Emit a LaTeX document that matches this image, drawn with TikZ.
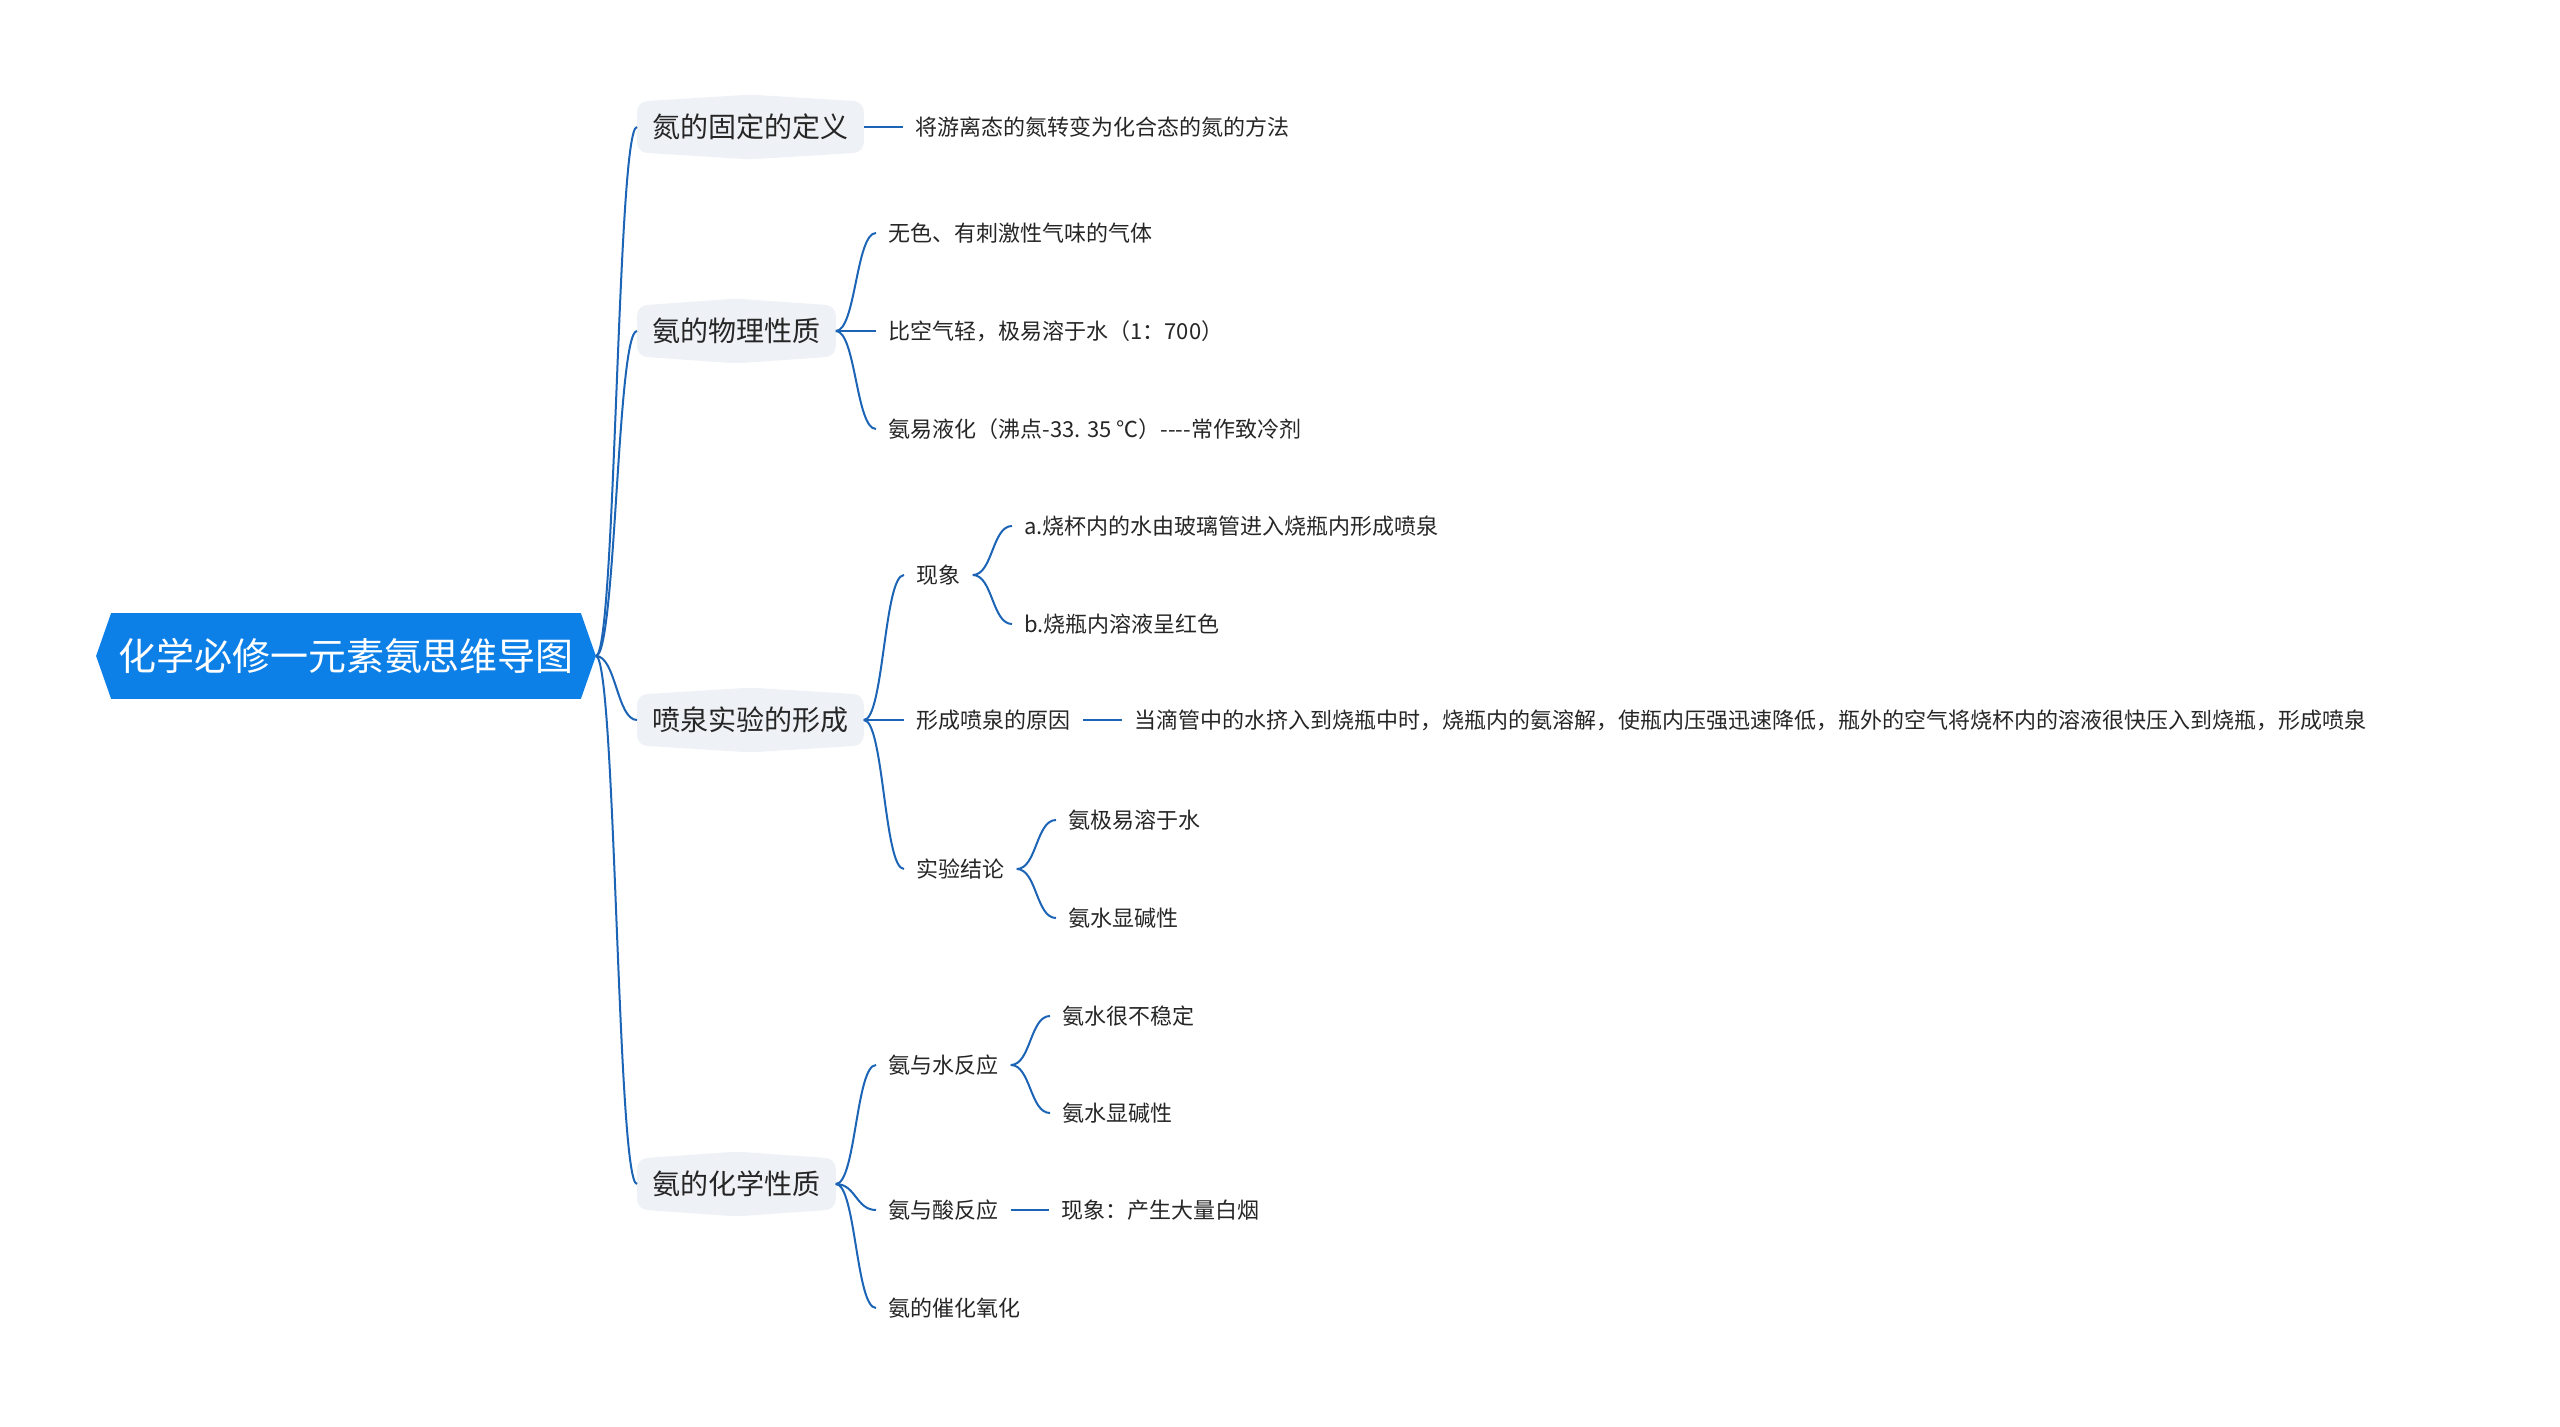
\documentclass[tikz,border=0pt]{standalone}
\usepackage{fontspec}
\setmainfont{Noto Sans CJK SC}
\usetikzlibrary{positioning,calc,backgrounds}
\definecolor{cblue}{HTML}{0D80E8}
\definecolor{cline}{HTML}{1C64B5}
\definecolor{cpale}{HTML}{EEF1F5}
\definecolor{cink}{HTML}{262626}

\begin{document}
\begin{tikzpicture}[x=0.5pt, y=-0.5pt,
  root/.style={text=white, font=\fontsize{19}{22}\selectfont, inner sep=0pt,
    minimum width=249.5pt, minimum height=42.5pt},
  topic/.style={anchor=west, text=cink, font=\fontsize{14}{17}\selectfont,
    inner xsep=7.5pt, inner ysep=0pt, minimum height=25pt},
  leaf/.style={anchor=west, text=cink, font=\fontsize{11}{13}\selectfont,
    inner xsep=6pt, inner ysep=3pt},
  link/.style={cline, line width=1pt},
  curl/.style={link, out=0, in=180, distance=10pt}]

\useasboundingbox (0,0) rectangle (2560,1427);

% ---- central topic
\node[root] (map) at (346,656) {化学必修一元素氨思维导图};

% ---- main branches (x = 637)
\node[topic] (fix)  at (637,127)  {氮的固定的定义};
\node[topic] (phys) at (637,331)  {氨的物理性质};
\node[topic] (foun) at (637,720)  {喷泉实验的形成};
\node[topic] (chem) at (637,1184) {氨的化学性质};

% ---- definition
\node[leaf] (fixd) at (903,127) {将游离态的氮转变为化合态的氮的方法};

% ---- physical properties
\node[leaf] (ph1) at (876,233) {无色、有刺激性气味的气体};
\node[leaf] (ph2) at (876,331) {比空气轻，极易溶于水（1：700）};
\node[leaf] (ph3) at (876,429) {氨易液化（沸点-33. 35 ℃）-{}-{}-{}-常作致冷剂};

% ---- fountain experiment
\node[leaf] (look)  at (904,575) {现象};
\node[leaf] (lka)   at (1012,526) {a.烧杯内的水由玻璃管进入烧瓶内形成喷泉};
\node[leaf] (lkb)   at (1012,624) {b.烧瓶内溶液呈红色};
\node[leaf] (cause) at (904,720) {形成喷泉的原因};
\node[leaf] (why)   at (1122,720) {当滴管中的水挤入到烧瓶中时，烧瓶内的氨溶解，使瓶内压强迅速降低，瓶外的空气将烧杯内的溶液很快压入到烧瓶，形成喷泉};
\node[leaf] (end)   at (904,869) {实验结论};
\node[leaf] (enda)  at (1056,820) {氨极易溶于水};
\node[leaf] (endb)  at (1056,918) {氨水显碱性};

% ---- chemical properties
\node[leaf] (wat)  at (876,1065) {氨与水反应};
\node[leaf] (wata) at (1050,1016) {氨水很不稳定};
\node[leaf] (watb) at (1050,1113) {氨水显碱性};
\node[leaf] (acid) at (876,1210) {氨与酸反应};
\node[leaf] (acsm) at (1049,1210) {现象：产生大量白烟};
\node[leaf] (cat)  at (876,1308) {氨的催化氧化};

% ---- shapes behind the nodes
\begin{scope}[on background layer]
\fill[cblue] ($(map.north west)+(15,0)$) -- ($(map.north east)+(-15,0)$) -- (map.east)
  -- ($(map.south east)+(-15,0)$) -- ($(map.south west)+(15,0)$) -- (map.west) -- cycle;
\foreach \t in {fix,phys,foun,chem}
  \fill[cpale, rounded corners=5pt] (\t.north west) -- ($(\t.north)+(0,-7)$) -- (\t.north east)
    -- (\t.south east) -- ($(\t.south)+(0,7)$) -- (\t.south west) -- cycle;
\end{scope}

% ---- connectors
\foreach \t in {fix,phys,foun,chem} \draw[curl] (map.east) to (\t.west);
\draw[link] (fix.east) -- (fixd.west);
\foreach \c in {ph1,ph2,ph3} \draw[curl] (phys.east) to (\c.west);
\foreach \c in {look,cause,end} \draw[curl] (foun.east) to (\c.west);
\foreach \c in {lka,lkb} \draw[curl] (look.east) to (\c.west);
\draw[link] (cause.east) -- (why.west);
\foreach \c in {enda,endb} \draw[curl] (end.east) to (\c.west);
\foreach \c in {wat,acid,cat} \draw[curl] (chem.east) to (\c.west);
\foreach \c in {wata,watb} \draw[curl] (wat.east) to (\c.west);
\draw[link] (acid.east) -- (acsm.west);
\end{tikzpicture}
\end{document}
